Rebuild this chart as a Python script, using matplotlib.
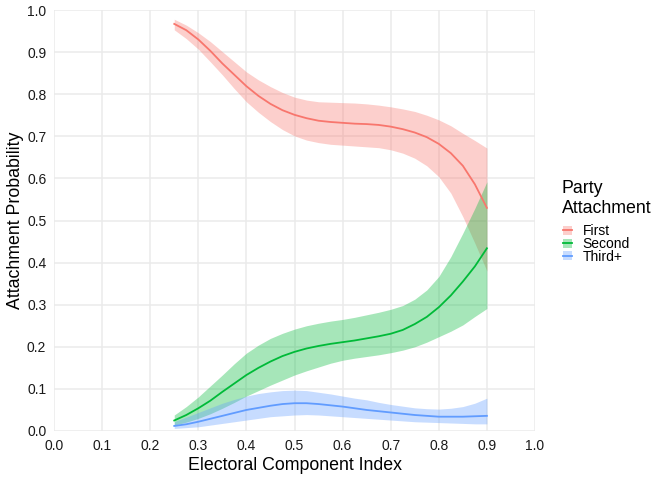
import matplotlib.pyplot as plt
from matplotlib.patches import Rectangle
from matplotlib.lines import Line2D

plt.rcParams['font.family'] = ['Liberation Sans', 'DejaVu Sans']

# ---------------------------------------------------------------------
# DATA
# ---------------------------------------------------------------------
x = [0.250, 0.275, 0.300, 0.325, 0.350, 0.375, 0.400, 0.425, 0.450,
     0.475, 0.500, 0.525, 0.550, 0.575, 0.600, 0.625, 0.650, 0.675,
     0.700, 0.725, 0.750, 0.775, 0.800, 0.825, 0.850, 0.875, 0.900]

first_fit = [0.967, 0.952, 0.930, 0.903, 0.873, 0.846, 0.819, 0.796, 0.777,
             0.762, 0.751, 0.743, 0.737, 0.734, 0.732, 0.730, 0.729, 0.727,
             0.723, 0.717, 0.709, 0.698, 0.682, 0.660, 0.630, 0.586, 0.530]
first_lo = [0.953, 0.932, 0.907, 0.877, 0.846, 0.813, 0.782, 0.757, 0.735,
            0.716, 0.701, 0.691, 0.685, 0.681, 0.679, 0.677, 0.675, 0.673,
            0.668, 0.660, 0.648, 0.630, 0.604, 0.565, 0.509, 0.446, 0.380]
first_hi = [0.978, 0.964, 0.946, 0.925, 0.901, 0.877, 0.853, 0.834, 0.818,
            0.804, 0.793, 0.786, 0.782, 0.781, 0.780, 0.779, 0.777, 0.774,
            0.770, 0.765, 0.759, 0.750, 0.739, 0.725, 0.707, 0.690, 0.672]

second_fit = [0.025, 0.038, 0.054, 0.072, 0.093, 0.113, 0.133, 0.150, 0.165,
              0.178, 0.188, 0.196, 0.202, 0.207, 0.211, 0.215, 0.220, 0.225,
              0.231, 0.240, 0.254, 0.271, 0.294, 0.322, 0.355, 0.391, 0.434]
second_lo = [0.014, 0.021, 0.030, 0.041, 0.054, 0.068, 0.083, 0.096, 0.109,
             0.121, 0.133, 0.143, 0.152, 0.161, 0.168, 0.173, 0.177, 0.181,
             0.186, 0.192, 0.200, 0.211, 0.224, 0.237, 0.252, 0.272, 0.291]
second_hi = [0.038, 0.058, 0.081, 0.107, 0.133, 0.160, 0.185, 0.204, 0.220,
             0.232, 0.242, 0.250, 0.256, 0.261, 0.265, 0.270, 0.276, 0.282,
             0.289, 0.298, 0.313, 0.335, 0.367, 0.414, 0.470, 0.529, 0.592]

third_fit = [0.012, 0.016, 0.022, 0.029, 0.036, 0.043, 0.050, 0.055, 0.060,
             0.064, 0.066, 0.066, 0.064, 0.061, 0.058, 0.054, 0.050, 0.047,
             0.044, 0.041, 0.038, 0.036, 0.034, 0.034, 0.034, 0.035, 0.036]
third_lo = [0.006, 0.008, 0.010, 0.014, 0.018, 0.022, 0.026, 0.030, 0.034,
            0.036, 0.038, 0.039, 0.038, 0.036, 0.034, 0.032, 0.030, 0.028,
            0.026, 0.024, 0.022, 0.021, 0.020, 0.019, 0.018, 0.017, 0.017]
third_hi = [0.022, 0.033, 0.044, 0.055, 0.066, 0.075, 0.083, 0.089, 0.093,
            0.096, 0.097, 0.096, 0.092, 0.088, 0.083, 0.078, 0.074, 0.068,
            0.063, 0.059, 0.055, 0.053, 0.052, 0.054, 0.058, 0.066, 0.078]

labels = ["First", "Second", "Third+"]
colors = ["#F8766D", "#00BA38", "#619CFF"]

series = [
    (first_fit, first_lo, first_hi),
    (second_fit, second_lo, second_hi),
    (third_fit, third_lo, third_hi),
]

W, H = 657, 479
RIBBON_ALPHA = 0.35


def px(xp, yp):
    """pixel (from top-left) -> figure fraction"""
    return xp / W, 1 - yp / H


# ---------------------------------------------------------------------
# PLOT
# ---------------------------------------------------------------------
fig = plt.figure(figsize=(W / 100, H / 100), dpi=100)
ax = fig.add_axes([54 / W, 1 - 431 / H, (535 - 54) / W, (431 - 10) / H])

for (fit, lo, hi), col in zip(series, colors):
    ax.fill_between(x, lo, hi, color=col, alpha=RIBBON_ALPHA, linewidth=0)
    ax.plot(x, fit, color=col, linewidth=1.3)

ax.set_xlim(0, 1)
ax.set_ylim(0, 1)
ticks = [i / 10 for i in range(11)]
ax.set_xticks(ticks)
ax.set_yticks(ticks)
ax.set_xticklabels([f"{t:.1f}" for t in ticks])
ax.set_yticklabels([f"{t:.1f}" for t in ticks])
ax.grid(True, color="#EBEBEB", linewidth=1.1)
ax.set_axisbelow(True)
for s in ax.spines.values():
    s.set_visible(False)
ax.tick_params(length=0, labelsize=10, labelcolor="#1a1a1a")
ax.tick_params(axis="x", pad=6)
ax.tick_params(axis="y", pad=5.5)

ax.set_xlabel("Electoral Component Index", fontsize=12.8, labelpad=2.5)
ax.set_ylabel("Attachment Probability", fontsize=12.8, labelpad=2.5)

# legend, drawn by hand to get the tight ggplot spacing
fig.text(*px(561.5, 193.3), "Party", fontsize=12.8, va="baseline", ha="left")
fig.text(*px(561.5, 212.7), "Attachment", fontsize=12.8, va="baseline", ha="left")
baselines = [235.0, 247.8, 260.6]
for lab, col, yb in zip(labels, colors, baselines):
    yc = yb - 4.7
    x0, y0 = px(562.5, yc + 4.5)
    fig.patches.append(Rectangle((x0, y0), 9 / W, 9 / H, transform=fig.transFigure,
                                 facecolor=col, alpha=RIBBON_ALPHA, edgecolor="none"))
    lx0, ly = px(562.5, yc)
    lx1, _ = px(571.5, yc)
    fig.lines.append(Line2D([lx0, lx1], [ly, ly], transform=fig.transFigure,
                            color=col, linewidth=1.3))
    fig.text(*px(582.7, yb), lab, fontsize=10, va="baseline", ha="left")

fig.savefig("out.png", dpi=100)
